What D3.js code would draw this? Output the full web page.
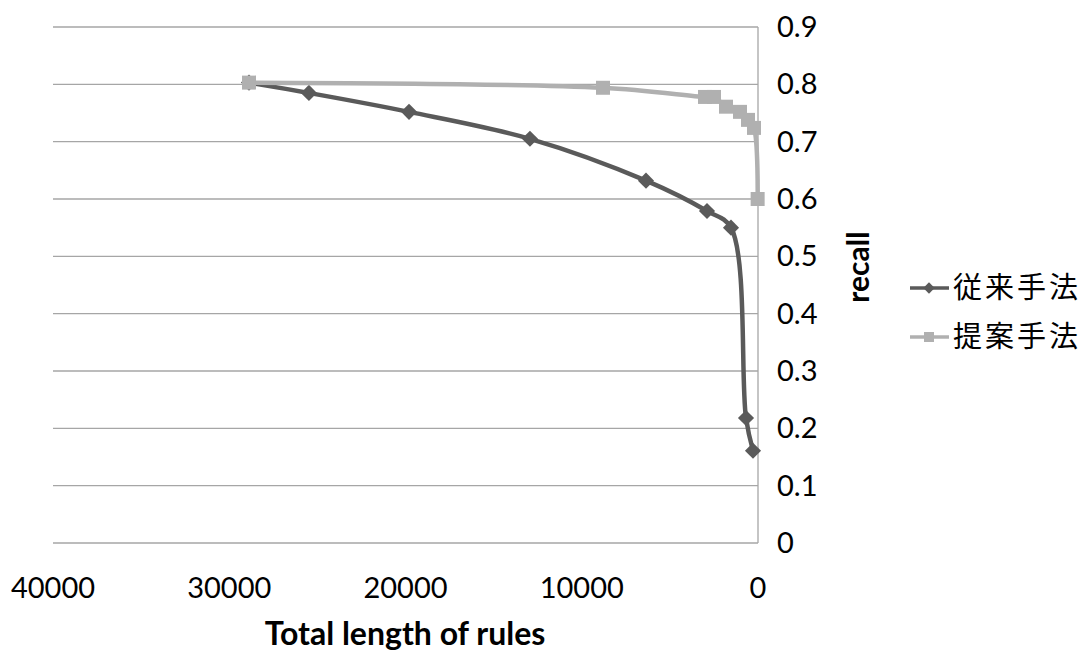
<!DOCTYPE html>
<html>
<head>
<meta charset="utf-8">
<script src="https://cdn.jsdelivr.net/npm/d3@7"></script>
<style>
  body { margin: 0; background: #fff; }
  text { font-family: Lato, "Open Sans", sans-serif; fill: #000; }
</style>
</head>
<body>
<svg id="chart" width="1092" height="653"></svg>
<script>
// series data: total length of rules vs recall
const seriesNames = ["従来手法", "提案手法"];
const baseX = [28880, 25480, 19800, 12940, 6355, 2894, 1532, 681, 284];
const baseY = [0.803, 0.785, 0.752, 0.705, 0.632, 0.579, 0.550, 0.218, 0.161];
const propX = [28880, 8795, 3007, 2497, 1816, 1021, 567, 227, 20];
const propY = [0.803, 0.794, 0.778, 0.778, 0.761, 0.752, 0.738, 0.724, 0.600];
const xTicks = [40000, 30000, 20000, 10000, 0];
const yTicks = [0, 0.1, 0.2, 0.3, 0.4, 0.5, 0.6, 0.7, 0.8, 0.9];

const colors = ["#5a5a5a", "#b0b0b0"];

const svg = d3.select("#chart");
const plot = { left: 53, right: 758, top: 27, bottom: 543 };

const x = d3.scaleLinear().domain([40000, 0]).range([plot.left, plot.right]);
const y = d3.scaleLinear().domain([0, 0.9]).range([plot.bottom, plot.top]);

// gridlines
svg.append("g")
    .selectAll("line")
    .data(yTicks)
    .join("line")
    .attr("x1", plot.left)
    .attr("x2", plot.right)
    .attr("y1", d => y(d))
    .attr("y2", d => y(d))
    .attr("stroke", "#a6a6a6")
    .attr("stroke-width", 1.3);

// right-hand value axis line
svg.append("line")
    .attr("x1", plot.right).attr("x2", plot.right)
    .attr("y1", plot.top).attr("y2", plot.bottom)
    .attr("stroke", "#a6a6a6")
    .attr("stroke-width", 1.3);

// x tick labels
svg.append("g")
    .selectAll("text")
    .data(xTicks)
    .join("text")
    .attr("x", d => x(d))
    .attr("y", 598)
    .attr("text-anchor", "middle")
    .style("font-size", "29px")
    .text(d => d);

// y tick labels
svg.append("g")
    .selectAll("text")
    .data(yTicks)
    .join("text")
    .attr("x", 777)
    .attr("y", d => y(d) + 10)
    .style("font-size", "29px")
    .text(d => d === 0 ? "0" : d3.format(".1f")(d));

// axis titles
svg.append("text")
    .attr("x", 405)
    .attr("y", 645)
    .attr("text-anchor", "middle")
    .style("font-size", "32px")
    .style("font-weight", "bold")
    .text("Total length of rules");

svg.append("text")
    .attr("transform", "translate(869,267) rotate(-90)")
    .attr("text-anchor", "middle")
    .style("font-size", "30px")
    .style("font-weight", "bold")
    .text("recall");

const line = d3.line()
    .x(d => x(d[0]))
    .y(d => y(d[1]))
    .curve(d3.curveCatmullRom.alpha(0.5));

const series = [
    { name: seriesNames[0], pts: d3.zip(baseX, baseY), color: colors[0], diamond: true },
    { name: seriesNames[1], pts: d3.zip(propX, propY), color: colors[1], diamond: false }
];

// dark series first, light one drawn over it (as in the reference)
series.forEach(s => {
    svg.append("path")
        .datum(s.pts)
        .attr("d", line)
        .attr("fill", "none")
        .attr("stroke", s.color)
        .attr("stroke-width", 4.5);

    const sym = d3.symbol().type(d3.symbolSquare).size(s.diamond ? 130 : 196);
    svg.append("g")
        .selectAll("path")
        .data(s.pts)
        .join("path")
        .attr("d", sym)
        .attr("transform", d => "translate(" + x(d[0]) + "," + y(d[1]) + ")" + (s.diamond ? " rotate(45)" : ""))
        .attr("fill", s.color);
});

// legend
const legend = svg.append("g");
series.forEach((s, i) => {
    const ly = 288 + i * 49;
    legend.append("line")
        .attr("x1", 910).attr("x2", 949)
        .attr("y1", ly).attr("y2", ly)
        .attr("stroke", s.color)
        .attr("stroke-width", 3.5);
    legend.append("path")
        .attr("d", d3.symbol().type(d3.symbolSquare).size(s.diamond ? 64 : 100))
        .attr("transform", "translate(929," + ly + ")" + (s.diamond ? " rotate(45)" : ""))
        .attr("fill", s.color);
    legend.append("text")
        .attr("x", 953)
        .attr("y", ly + 10)
        .style("font-family", "'Noto Sans CJK JP', sans-serif")
        .style("font-size", "29px")
        .style("letter-spacing", "3px")
        .text(s.name);
});
</script>
</body>
</html>
